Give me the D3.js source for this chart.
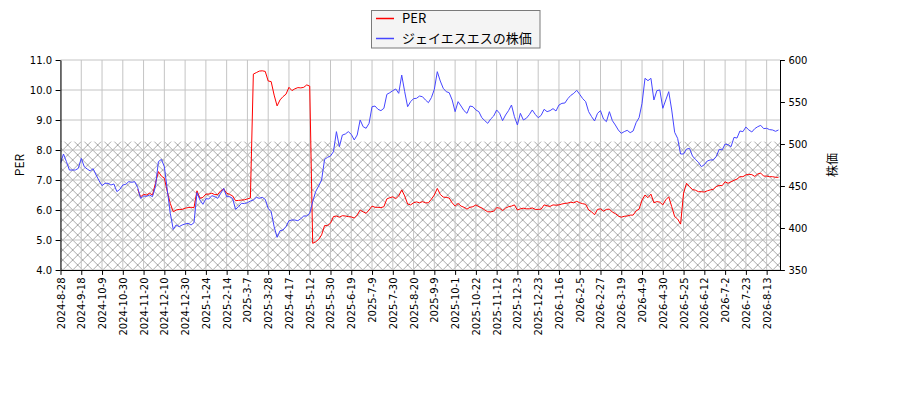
<!DOCTYPE html>
<meta charset="utf-8">
<style>
body { margin: 0; background: #fff; }
text { font-family: "DejaVu Sans", sans-serif; font-size: 10px; fill: #000; }
.jp { font-family: "Noto Sans CJK JP", sans-serif; }
</style>
<svg id="chart" width="900" height="400"></svg>
<script src="https://cdn.jsdelivr.net/npm/d3@7"></script>
<script>

// x axis: trading-day index, one tick label every 14 days
var tickLabels = ["2024-8-28","2024-9-18","2024-10-9","2024-10-30","2024-11-20","2024-12-10","2024-12-30",
  "2025-1-24","2025-2-14","2025-3-7","2025-3-28","2025-4-17","2025-5-12","2025-5-30","2025-6-19","2025-7-9",
  "2025-7-30","2025-8-20","2025-9-9","2025-10-1","2025-10-22","2025-11-12","2025-12-3","2025-12-23",
  "2026-1-16","2026-2-5","2026-2-27","2026-3-19","2026-4-9","2026-4-30","2026-5-25","2026-6-12","2026-7-2",
  "2026-7-23","2026-8-13"];
var tickStep = 14, sampleStep = 2, lastDay = 485;

// share price, one value every 2 trading days
var price = [477.0,488.1,479,469,469,469,471,482.9,473,470.2,467.9,470.6,463.1,456.3,450.4,453.2,453.2,451.2,452.4,443.3,
  446.0,451.2,452.0,455.2,454.4,455.2,448.4,435.3,438.1,437.7,439.3,437.3,449.2,479.0,481.7,473,445.2,417.5,398.4,403.6,
  401.6,403.6,404.8,405.6,403.6,406.3,442.1,433.3,428.2,434.9,434.5,438.5,437.3,435.3,441.3,447.2,437.3,437.3,435.3,422.2,
  425.4,429.4,429.0,430.2,432.1,433.3,436.5,435.3,436.5,434.1,423.4,419.4,401.6,388.9,396.8,397.6,401.6,408.7,409.5,409.5,
  408.7,411.1,414.3,414.3,417.5,431.3,443.3,450.0,457.1,481.7,484.1,485.7,490.9,514.7,496.8,510.7,511.9,514.7,511.5,504.8,
  510.7,528.6,520.6,518.7,524.6,544.4,545.2,541.3,539.7,542.5,559.1,561.1,563.5,565.5,560.3,582.1,562.3,544.4,550.4,554.0,
  554.4,557.1,556.3,552.4,549.2,555.2,565.1,586.1,575.0,566.3,562.3,561.1,552.4,538.5,550.4,545.2,539.7,536.5,545.2,544.4,
  540.5,538.5,531.3,527.8,524.6,529.8,533.3,540.5,536.5,527.8,534.5,539.7,546.4,532.5,522.6,536.5,528.6,530.6,534.9,540.5,
  535.3,531.3,534.1,541.3,538.5,539.7,542.1,539.3,546.4,548.4,548.8,554.0,557.9,560.3,563.9,559.1,554.0,550.4,538.5,532.5,
  527.4,536.5,539.7,529.8,526.6,538.5,527.8,522.6,516.7,512.7,514.7,516.3,513.5,515.5,525.4,531.3,548.4,578.2,575.4,578.2,
  552.4,563.5,564.3,542.5,552.4,562.3,540.5,513.9,506.7,488.1,488.1,494.0,494.8,485.7,481.7,478.2,473.0,475.4,479.8,481.0,
  481.0,484.9,493.7,492.9,500.0,499.2,496.8,507.9,507.1,515.5,514.7,520.2,516.7,514.3,518.3,520.6,522.2,518.3,518.7,517.1,
  516.7,515.1,516.7];

// PER, same sampling (no value before the first visible point)
var per = [null,null,null,null,null,null,null,null,null,null,null,null,null,null,null,null,null,null,null,null,
  null,null,null,null,null,null,6.69,6.44,6.52,6.50,6.56,6.50,6.89,7.28,7.13,7.06,6.61,6.22,5.94,6.00,
  6.02,6.02,6.06,6.08,6.09,6.08,6.64,6.39,6.42,6.53,6.53,6.56,6.51,6.52,6.64,6.70,6.56,6.52,6.47,6.31,
  6.32,6.33,6.34,6.37,6.40,10.53,10.58,10.63,10.64,10.62,10.30,10.28,9.83,9.47,9.67,9.78,9.86,10.09,9.98,10.04,
  10.08,10.07,10.09,10.17,10.13,4.89,4.94,5.02,5.17,5.48,5.48,5.56,5.78,5.80,5.76,5.81,5.80,5.78,5.77,5.73,
  5.83,6.00,5.94,5.89,6.00,6.13,6.09,6.09,6.08,6.11,6.37,6.41,6.44,6.38,6.47,6.67,6.47,6.20,6.17,6.24,
  6.27,6.24,6.28,6.24,6.24,6.36,6.50,6.72,6.52,6.43,6.42,6.40,6.24,6.13,6.22,6.13,6.09,6.03,6.09,6.11,
  6.17,6.11,6.07,6.00,5.94,5.94,5.96,6.08,6.06,5.98,6.06,6.11,6.13,6.17,6.00,6.04,6.06,6.04,6.04,6.07,
  6.02,6.02,6.03,6.17,6.14,6.12,6.17,6.16,6.17,6.20,6.22,6.23,6.26,6.24,6.29,6.24,6.21,6.19,6.00,5.94,
  5.84,6.02,6.04,5.96,6.02,6.03,5.93,5.88,5.80,5.76,5.79,5.80,5.83,5.83,5.97,6.03,6.33,6.50,6.41,6.53,
  6.24,6.28,6.26,6.17,6.34,6.44,6.11,5.78,5.70,5.53,6.56,6.89,6.78,6.68,6.66,6.61,6.61,6.60,6.64,6.67,
  6.69,6.78,6.82,6.81,6.94,6.89,6.94,6.99,7.03,7.11,7.11,7.17,7.19,7.18,7.12,7.20,7.23,7.13,7.13,7.11,
  7.11,7.09,7.09];

// hatched PER band
var perBand = [4.0, 8.28];

var mLeft = 60.5, mRight = 780, mTop = 60, mBottom = 270;

var svg = d3.select("#chart");

var x = d3.scaleLinear().domain([0, lastDay]).range([mLeft, mRight]);
var yPer = d3.scaleLinear().domain([4, 11]).range([mBottom, mTop]);
var yPrice = d3.scaleLinear().domain([350, 600]).range([mBottom, mTop]);

var defs = svg.append("defs");
var h = 10;
var pat = defs.append("pattern")
    .attr("id", "hatch")
    .attr("patternUnits", "userSpaceOnUse")
    .attr("x", 2.7).attr("y", 0)
    .attr("width", h).attr("height", h);
pat.append("path")
    .attr("d", "M-1,-1L" + (h + 1) + "," + (h + 1) + "M" + (h + 1) + ",-1L-1," + (h + 1))
    .attr("stroke", "#949494")
    .attr("stroke-width", 0.8)
    .attr("fill", "none");

defs.append("clipPath").attr("id", "plot")
  .append("rect")
    .attr("x", mLeft).attr("y", mTop)
    .attr("width", mRight - mLeft).attr("height", mBottom - mTop);

// band
svg.append("rect")
    .attr("x", mLeft)
    .attr("y", yPer(perBand[1]))
    .attr("width", mRight - mLeft)
    .attr("height", yPer(perBand[0]) - yPer(perBand[1]))
    .attr("fill", "url(#hatch)");

// grid
var tickDays = tickLabels.map(function(d, j) { return j * tickStep; });
var grid = svg.append("g").attr("stroke", "#c4c4c4").attr("stroke-width", 1);
grid.selectAll(".gx").data(tickDays).enter().append("line")
    .attr("x1", function(d) { return x(d); }).attr("x2", function(d) { return x(d); })
    .attr("y1", mTop).attr("y2", mBottom);
grid.selectAll(".gy").data(d3.range(4, 11.01, 1)).enter().append("line")
    .attr("x1", mLeft).attr("x2", mRight)
    .attr("y1", function(d) { return yPer(d); }).attr("y2", function(d) { return yPer(d); });

// lines
var lines = svg.append("g").attr("clip-path", "url(#plot)");

var perLine = d3.line()
    .defined(function(d) { return d != null; })
    .x(function(d, i) { return x(i * sampleStep); })
    .y(function(d) { return yPer(d); });

var priceLine = d3.line()
    .x(function(d, i) { return x(i * sampleStep); })
    .y(function(d) { return yPrice(d); });

lines.append("path")
    .attr("d", perLine(per))
    .attr("fill", "none")
    .attr("stroke", "#ff0000")
    .attr("stroke-width", 1);

lines.append("path")
    .attr("d", priceLine(price))
    .attr("fill", "none")
    .attr("stroke", "#4646ff")
    .attr("stroke-width", 1);

// axes
var major = 4.9, minor = 2.8;

var gl = svg.append("g").attr("transform", "translate(" + mLeft + ",0)");
gl.call(d3.axisLeft(yPer).tickValues(d3.range(4, 11.01, 0.5).filter(function(d) { return d % 1 !== 0; }))
    .tickSize(minor).tickSizeOuter(0).tickFormat(""));
gl.call(d3.axisLeft(yPer).tickValues(d3.range(4, 11.01, 1)).tickSize(major).tickSizeOuter(0)
    .tickPadding(3.5).tickFormat(d3.format(".1f")));

var gr = svg.append("g").attr("transform", "translate(" + mRight + ",0)");
gr.call(d3.axisRight(yPrice).tickValues(d3.range(350, 601, 10).filter(function(d) { return d % 50 !== 0; }))
    .tickSize(minor).tickSizeOuter(0).tickFormat(""));
gr.call(d3.axisRight(yPrice).tickValues(d3.range(350, 601, 50)).tickSize(major).tickSizeOuter(0)
    .tickPadding(3.5).tickFormat(d3.format("d")));

var gb = svg.append("g").attr("transform", "translate(0," + mBottom + ")");
gb.call(d3.axisBottom(x).tickValues(tickDays).tickSize(major).tickSizeOuter(0)
    .tickFormat(function(d, j) { return tickLabels[j]; }));
gb.selectAll(".tick text")
    .attr("transform", "rotate(-90)")
    .attr("x", -(major + 2.5))
    .attr("y", 0)
    .attr("dy", "0.35em")
    .attr("text-anchor", "end");

svg.selectAll(".domain").attr("stroke", "#000").attr("stroke-width", 1);
svg.selectAll(".tick line").attr("stroke", "#000");
svg.selectAll(".tick text").style("font-family", "DejaVu Sans").style("font-size", "10px").attr("fill", "#000");

// axis titles
svg.append("text").attr("class", "jp")
    .attr("transform", "translate(20," + (mTop + mBottom) / 2 + ") rotate(-90)")
    .attr("text-anchor", "middle").attr("dy", "0.35em")
    .style("font-size", "12px")
    .text("PER");
svg.append("text").attr("class", "jp")
    .attr("transform", "translate(833," + (mTop + mBottom) / 2 + ") rotate(-90)")
    .attr("text-anchor", "middle").attr("dy", "0.35em")
    .style("font-size", "12px")
    .text("株価");

// legend
var legend = svg.append("g");
legend.append("rect")
    .attr("x", 371.5).attr("y", 10.5).attr("width", 168.5).attr("height", 37.5)
    .attr("fill", "#f4f4f4").attr("stroke", "#7a7a7a").attr("stroke-width", 1);
var items = [{label: "PER", color: "#ff0000"}, {label: "ジェイエスエスの株価", color: "#4646ff"}];
var li = legend.selectAll(".item").data(items).enter().append("g")
    .attr("transform", function(d, i) { return "translate(0," + (18.5 + i * 20) + ")"; });
li.append("line").attr("x1", 376).attr("x2", 394).attr("y1", 0).attr("y2", 0)
    .attr("stroke", function(d) { return d.color; }).attr("stroke-width", 1.5);
li.append("text").attr("class", "jp").attr("x", 402).attr("dy", "0.35em")
    .style("font-size", "13px")
    .text(function(d) { return d.label; });

</script>
